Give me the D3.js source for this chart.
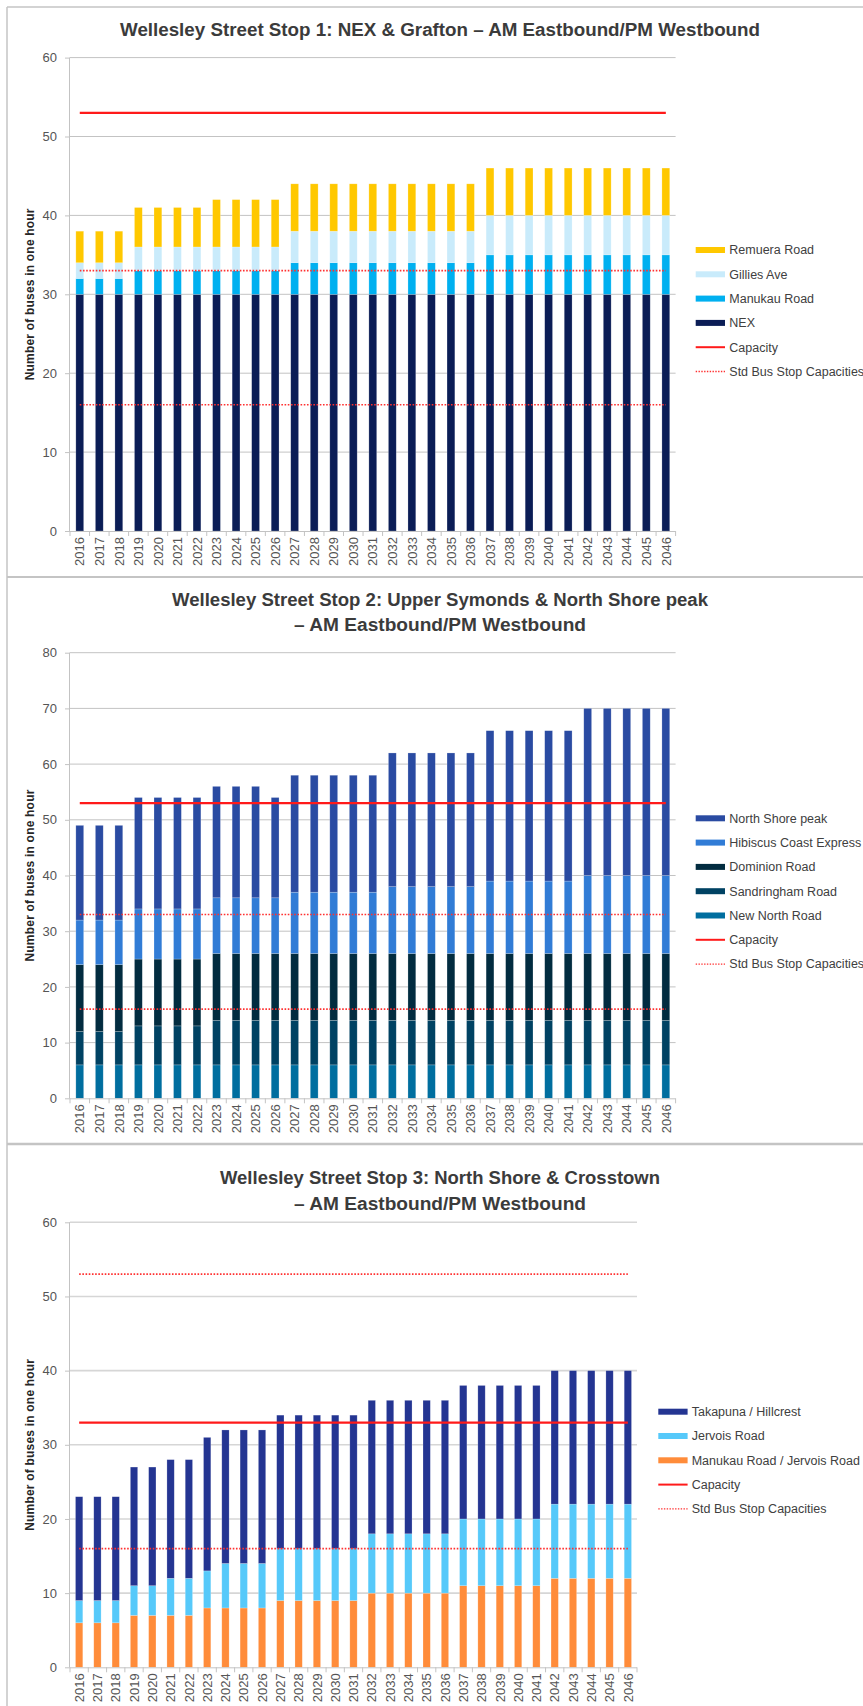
<!DOCTYPE html>
<html><head><meta charset="utf-8">
<script src="https://cdn.jsdelivr.net/npm/d3@7/dist/d3.min.js"></script>
<style>
body{margin:0;background:#fff}
svg{display:block;font-family:"Liberation Sans",Arial,sans-serif}
</style>
</head><body>
<svg id="c" width="863" height="1706"></svg>
<script>
// ---------- DATA ----------
const years = ["2016","2017","2018","2019","2020","2021","2022","2023","2024","2025","2026","2027","2028","2029","2030","2031","2032","2033","2034","2035","2036","2037","2038","2039","2040","2041","2042","2043","2044","2045","2046"];

// Stop 1 (segment values)
const s1_nex      = [30,30,30,30,30,30,30,30,30,30,30,30,30,30,30,30,30,30,30,30,30,30,30,30,30,30,30,30,30,30,30];
const s1_manukau  = [2,2,2,3,3,3,3,3,3,3,3,4,4,4,4,4,4,4,4,4,4,5,5,5,5,5,5,5,5,5,5];
const s1_gillies  = [2,2,2,3,3,3,3,3,3,3,3,4,4,4,4,4,4,4,4,4,4,5,5,5,5,5,5,5,5,5,5];
const s1_remuera  = [4,4,4,5,5,5,5,6,6,6,6,6,6,6,6,6,6,6,6,6,6,6,6,6,6,6,6,6,6,6,6];
const s1_capacity = 53;
const s1_std      = [33,16];
const s1_yTicks   = [0,10,20,30,40,50,60];

// Stop 2
const s2_newNorth    = [6,6,6,6,6,6,6,6,6,6,6,6,6,6,6,6,6,6,6,6,6,6,6,6,6,6,6,6,6,6,6];
const s2_sandringham = [6,6,6,7,7,7,7,8,8,8,8,8,8,8,8,8,8,8,8,8,8,8,8,8,8,8,8,8,8,8,8];
const s2_dominion    = [12,12,12,12,12,12,12,12,12,12,12,12,12,12,12,12,12,12,12,12,12,12,12,12,12,12,12,12,12,12,12];
const s2_hibiscus    = [8,8,8,9,9,9,9,10,10,10,10,11,11,11,11,11,12,12,12,12,12,13,13,13,13,13,14,14,14,14,14];
const s2_northShore  = [17,17,17,20,20,20,20,20,20,20,18,21,21,21,21,21,24,24,24,24,24,27,27,27,27,27,30,30,30,30,30];
const s2_capacity = 53;
const s2_std      = [33,16];
const s2_yTicks   = [0,10,20,30,40,50,60,70,80];

// Stop 3
const s3_manukauJervois = [6,6,6,7,7,7,7,8,8,8,8,9,9,9,9,9,10,10,10,10,10,11,11,11,11,11,12,12,12,12,12];
const s3_jervois        = [3,3,3,4,4,5,5,5,6,6,6,7,7,7,7,7,8,8,8,8,8,9,9,9,9,9,10,10,10,10,10];
const s3_takapuna       = [14,14,14,16,16,16,16,18,18,18,18,18,18,18,18,18,18,18,18,18,18,18,18,18,18,18,18,18,18,18,18];
const s3_capacity = 33;
const s3_std      = [53,16];
const s3_yTicks   = [0,10,20,30,40,50,60];

// ---------- LAYOUT / STYLE ----------
const charts = [
  {
    title:["Wellesley Street Stop 1: NEX & Grafton \u2013 AM Eastbound/PM Westbound"],
    titleY:[30], titleW:[640],
    top:57.6, bottom:531, left:70, right:675.6, yMax:60, yTicks:s1_yTicks,
    series:[{name:"NEX",v:s1_nex,c:"#0B1D56"},{name:"Manukau Road",v:s1_manukau,c:"#00B0F0"},
            {name:"Gillies Ave",v:s1_gillies,c:"#C9EBFB"},{name:"Remuera Road",v:s1_remuera,c:"#FFC800"}],
    capacity:s1_capacity, std:s1_std,
    legX:695.7, legTX:729.3, legY0:250, grid:"#c3c3c3", gridW:1
  },
  {
    title:["Wellesley Street Stop 2: Upper Symonds & North Shore peak","\u2013 AM Eastbound/PM Westbound"],
    titleY:[600,624.5], titleW:[536,292],
    top:652.7, bottom:1098.3, left:70, right:675.6, yMax:80, yTicks:s2_yTicks,
    series:[{name:"New North Road",v:s2_newNorth,c:"#006E9F"},{name:"Sandringham Road",v:s2_sandringham,c:"#004263"},
            {name:"Dominion Road",v:s2_dominion,c:"#022C40"},{name:"Hibiscus Coast Express",v:s2_hibiscus,c:"#317CD6"},
            {name:"North Shore peak",v:s2_northShore,c:"#2A4BA2"}],
    capacity:s2_capacity, std:s2_std,
    legX:695.7, legTX:729.3, legY0:818.3, grid:"#c3c3c3", gridW:1
  },
  {
    title:["Wellesley Street Stop 3: North Shore & Crosstown","\u2013 AM Eastbound/PM Westbound"],
    titleY:[1178,1203.5], titleW:[440,292],
    top:1222.3, bottom:1667.3, left:70, right:637, yMax:60, yTicks:s3_yTicks,
    series:[{name:"Manukau Road / Jervois Road",v:s3_manukauJervois,c:"#FF8C3A"},{name:"Jervois Road",v:s3_jervois,c:"#56C9FA"},
            {name:"Takapuna / Hillcrest",v:s3_takapuna,c:"#243592"}],
    capacity:s3_capacity, std:s3_std,
    legX:658.3, legTX:691.7, legY0:1411.7, grid:"#d6d6d6", gridW:1.6
  }
];

const svg = d3.select("#c");
svg.append("rect").attr("width",863).attr("height",1706).attr("fill","#fff");

// frames
const frame = svg.append("g").attr("stroke","#c4c4c4").attr("fill","none");
frame.append("line").attr("x1",7).attr("x2",863).attr("y1",7).attr("y2",7).attr("stroke-width",1.5);
frame.append("line").attr("x1",7).attr("x2",7).attr("y1",7).attr("y2",1706).attr("stroke-width",1.5);
frame.append("line").attr("x1",7).attr("x2",863).attr("y1",577).attr("y2",577).attr("stroke-width",2);
frame.append("line").attr("x1",7).attr("x2",863).attr("y1",1144).attr("y2",1144).attr("stroke-width",2.5);

charts.forEach(ch => {
  const g = svg.append("g");
  // title
  ch.title.forEach((t,i) => {
    g.append("text").attr("x",440).attr("y",ch.titleY[i]).attr("dy","0.35em")
      .attr("text-anchor","middle").attr("font-size",18).attr("font-weight","bold")
      .attr("fill","#3b3b3b").attr("textLength",ch.titleW[i]).attr("lengthAdjust","spacingAndGlyphs")
      .text(t);
  });

  const x = d3.scaleBand().domain(years).range([ch.left,ch.right]).paddingInner(0.6).paddingOuter(0.3);
  const y = d3.scaleLinear().domain([0,ch.yMax]).range([ch.bottom,ch.top]);
  const slot = d3.scaleLinear().domain([0,years.length]).range([ch.left,ch.right]);

  // gridlines
  g.append("g").selectAll("line").data(ch.yTicks.filter(d=>d>0)).join("line")
    .attr("x1",ch.left).attr("x2",ch.right).attr("y1",d=>y(d)).attr("y2",d=>y(d))
    .attr("stroke",ch.grid).attr("stroke-width",ch.gridW);

  // bars
  const rows = years.map((yr,i) => {
    const o = {year:yr};
    ch.series.forEach(s => o[s.name] = s.v[i]);
    return o;
  });
  const stack = d3.stack().keys(ch.series.map(s=>s.name))(rows);
  g.append("g").selectAll("g").data(stack).join("g")
    .attr("fill",(d,i)=>ch.series[i].c)
    .selectAll("rect").data(d=>d).join("rect")
    .attr("x",d=>x(d.data.year)).attr("width",x.bandwidth())
    .attr("y",d=>y(d[1])).attr("height",d=>y(d[0])-y(d[1]))
    .attr("stroke","rgba(255,255,255,0.35)").attr("stroke-width",0.6);

  // reference lines
  const x0 = x(years[0]) + x.bandwidth()/2, x1 = x(years[years.length-1]) + x.bandwidth()/2;
  g.append("line").attr("x1",x0).attr("x2",x1).attr("y1",y(ch.capacity)).attr("y2",y(ch.capacity))
    .attr("stroke","#FF1A1A").attr("stroke-width",2.2);
  g.append("g").selectAll("line").data(ch.std).join("line")
    .attr("x1",x0).attr("x2",x1).attr("y1",d=>y(d)).attr("y2",d=>y(d))
    .attr("stroke","#FF3030").attr("stroke-width",1.7).attr("stroke-dasharray","1.6,1.6");

  // y axis
  const ya = g.append("g").attr("transform",`translate(${ch.left},0)`)
    .call(d3.axisLeft(y).tickValues(ch.yTicks).tickSize(5).tickPadding(8).tickFormat(d3.format("d")));
  ya.select(".domain").attr("stroke","#c3c3c3").attr("d",`M-0.5,${ch.top}V${ch.bottom}`);
  ya.selectAll(".tick line").attr("stroke","#c3c3c3");
  ya.selectAll("text").attr("font-size",13).attr("fill","#555").attr("font-family","'Liberation Sans Narrow','Liberation Sans',sans-serif");

  // x axis
  const xa = g.append("g").attr("transform",`translate(0,${ch.bottom})`)
    .call(d3.axisBottom(x).tickSize(0).tickPadding(0));
  xa.select(".domain").attr("stroke","#c3c3c3").attr("d",`M${ch.left},0.5H${ch.right}`);
  xa.selectAll(".tick text").attr("font-size",13).attr("fill","#555")
    .attr("text-anchor","end").attr("transform","rotate(-90)")
    .attr("x",-6).attr("y",0).attr("dy","0.36em");
  xa.append("g").selectAll("line").data(d3.range(years.length+1)).join("line")
    .attr("x1",d=>slot(d)).attr("x2",d=>slot(d)).attr("y1",0).attr("y2",5)
    .attr("stroke","#c3c3c3");

  // y axis title
  g.append("text").attr("transform",`translate(30,${(ch.top+ch.bottom)/2}) rotate(-90)`)
    .attr("text-anchor","middle").attr("dy","0.35em").attr("font-size",12).attr("font-weight","bold")
    .attr("fill","#262626").attr("letter-spacing",0.2).text("Number of buses in one hour");

  // legend
  const leg = ch.series.slice().reverse().map(s=>({name:s.name,c:s.c,type:"bar"}))
    .concat([{name:"Capacity",type:"cap"},{name:"Std Bus Stop Capacities",type:"std"}]);
  const lg = g.append("g");
  leg.forEach((d,i) => {
    const yy = ch.legY0 + i*24.3;
    if (d.type==="bar") {
      lg.append("rect").attr("x",ch.legX).attr("y",yy-3).attr("width",29.3).attr("height",6).attr("fill",d.c);
    } else if (d.type==="cap") {
      lg.append("line").attr("x1",ch.legX).attr("x2",ch.legX+29.3).attr("y1",yy).attr("y2",yy)
        .attr("stroke","#FF1A1A").attr("stroke-width",2);
    } else {
      lg.append("line").attr("x1",ch.legX).attr("x2",ch.legX+29.3).attr("y1",yy).attr("y2",yy)
        .attr("stroke","#FF3030").attr("stroke-width",1.4).attr("stroke-dasharray","1.4,1.4");
    }
    lg.append("text").attr("x",ch.legTX).attr("y",yy).attr("dy","0.35em")
      .attr("font-size",12.5).attr("fill","#404040").text(d.name);
  });
});
</script>
</body></html>
